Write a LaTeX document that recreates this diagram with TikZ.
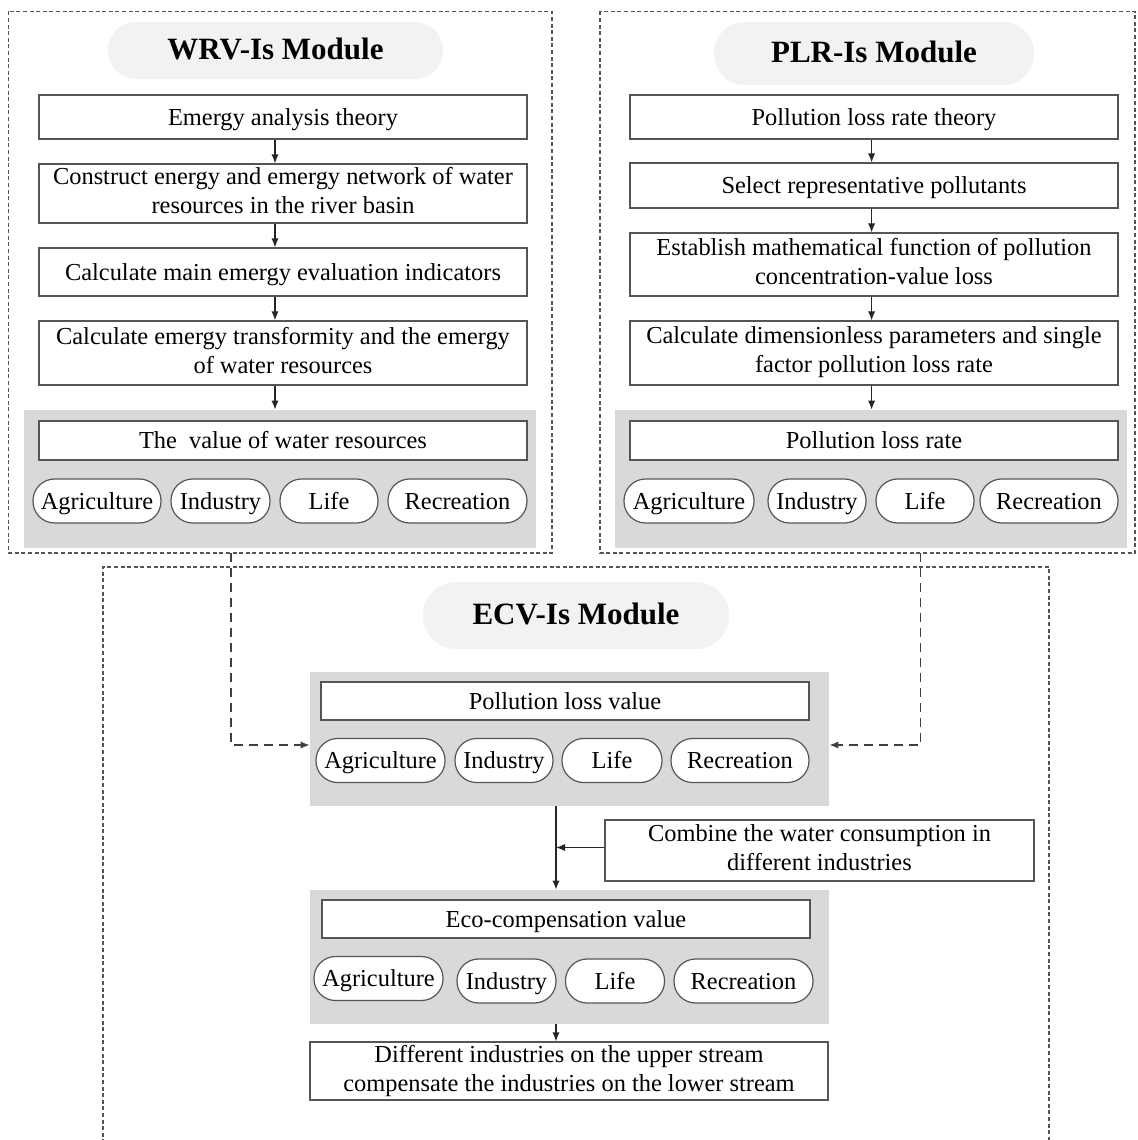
\documentclass[tikz,border=0pt]{standalone}
\usepackage{fontspec}
\setmainfont{Liberation Serif}
\usetikzlibrary{arrows.meta}
\definecolor{panelgray}{HTML}{D9D9D9}
\definecolor{titlegray}{HTML}{F2F2F2}
\definecolor{linegray}{HTML}{555555}
\newcommand\mytopstrut{\rule{0pt}{11pt}}
\newcommand\mybotstrut{\rule[-3pt]{0pt}{3pt}}
\newcommand\ttopstrut{\rule{0pt}{12.5pt}}
\newcommand\tbotstrut{\rule[-3.5pt]{0pt}{3.5pt}}
\begin{document}
\begin{tikzpicture}[x=0.5pt,y=-0.5pt,
  txt/.style={font=\fontsize{12.2}{14.5}\selectfont, align=center, inner sep=0pt,
    execute at begin node=\mytopstrut, execute at end node=\mybotstrut},
  box/.style={txt, draw=linegray, line width=0.6pt, fill=white},
  pill/.style={txt, draw=linegray, line width=0.6pt, fill=white, rounded corners=10.8pt, minimum height=22pt},
  panel/.style={fill=panelgray, inner sep=0pt},
  modtitle/.style={fill=titlegray, inner sep=0pt, font=\fontsize{15.5}{18}\bfseries\selectfont,
    execute at begin node=\ttopstrut, execute at end node=\tbotstrut},
  frame/.style={draw=linegray, line width=0.6pt, dash pattern=on 2pt off 1.3pt},
  arr/.style={draw=black!85, line width=0.6pt, -{Latex[length=4.5pt,width=3.6pt]}},
  darr/.style={arr, draw=black!75, dash pattern=on 4.5pt off 3pt}]
\useasboundingbox (0,0) rectangle (1137,1140);
\fill[white] (0,0) rectangle (1137,1140);

% ---------- frames ----------
\draw[frame] (8.6,11.4) rectangle (552,553);
\draw[frame] (600,11.4) rectangle (1135,553);
\draw[frame] (103,1150) -- (103,567) -- (1049,567) -- (1049,1150);

% ---------- WRV module ----------
\node[modtitle, rounded corners=14pt, minimum width=167.5pt, minimum height=28.5pt] (wt) at (275.5,50.5) {WRV-Is Module};
\node[box, minimum width=244pt, minimum height=22pt] (w1) at (283,117) {Emergy analysis theory};
\node[box, minimum width=244pt, minimum height=29.5pt] (w2) at (283,193.5) {Construct energy and emergy network of water\\resources in the river basin};
\node[box, minimum width=244pt, minimum height=24pt] (w3) at (283,272) {Calculate main emergy evaluation indicators};
\node[box, minimum width=244pt, minimum height=32pt] (w4) at (283,353) {Calculate emergy transformity and the emergy\\of water resources};
\node[panel, minimum width=256pt, minimum height=69pt] (wp) at (280,479) {};
\node[box, minimum width=244pt, minimum height=19.5pt] (wv) at (283,440.5) {The~ value of water resources};
\node[pill, minimum width=64pt] (wa) at (97,501) {Agriculture};
\node[pill, minimum width=49.5pt] (wi) at (220.5,501) {Industry};
\node[pill, minimum width=49pt] (wl) at (329,501) {Life};
\node[pill, minimum width=69.5pt] (wr) at (457.5,501) {Recreation};
\coordinate (wx) at (275,0);
\draw[arr] (w1.south -| wx) -- (w2.north -| wx);
\draw[arr] (w2.south -| wx) -- (w3.north -| wx);
\draw[arr] (w3.south -| wx) -- (w4.north -| wx);
\draw[arr] (w4.south -| wx) -- (wp.north -| wx);

% ---------- PLR module ----------
\node[modtitle, rounded corners=15.5pt, minimum width=160pt, minimum height=31.5pt] (pt) at (874,53.5) {PLR-Is Module};
\node[box, minimum width=244pt, minimum height=22pt] (p1) at (874,117) {Pollution loss rate theory};
\node[box, minimum width=244pt, minimum height=22.5pt] (p2) at (874,185.5) {Select representative pollutants};
\node[box, minimum width=244pt, minimum height=31.5pt] (p3) at (874,264.5) {Establish mathematical function of pollution\\concentration-value loss};
\node[box, minimum width=244pt, minimum height=32pt] (p4) at (874,353) {Calculate dimensionless parameters and single\\factor pollution loss rate};
\node[panel, minimum width=256pt, minimum height=69pt] (pp) at (871,479) {};
\node[box, minimum width=244pt, minimum height=19.5pt] (pv) at (874,440.5) {Pollution loss rate};
\node[pill, minimum width=65pt] (pa) at (689,501) {Agriculture};
\node[pill, minimum width=49pt] (pi) at (817,501) {Industry};
\node[pill, minimum width=49pt] (pl) at (925,501) {Life};
\node[pill, minimum width=69pt] (pr) at (1049,501) {Recreation};
\coordinate (px) at (871.6,0);
\draw[arr] (p1.south -| px) -- (p2.north -| px);
\draw[arr] (p2.south -| px) -- (p3.north -| px);
\draw[arr] (p3.south -| px) -- (p4.north -| px);
\draw[arr] (p4.south -| px) -- (pp.north -| px);

% ---------- ECV module ----------
\node[modtitle, rounded corners=16.5pt, minimum width=153pt, minimum height=33.5pt] (et) at (576,615.5) {ECV-Is Module};
\node[panel, minimum width=259.5pt, minimum height=67pt] (e1) at (569.5,739) {};
\node[box, minimum width=244pt, minimum height=19pt] (ev1) at (565,701) {Pollution loss value};
\node[pill, minimum width=64.5pt] (ea1) at (380.5,760.5) {Agriculture};
\node[pill, minimum width=49pt] (ei1) at (504,760.5) {Industry};
\node[pill, minimum width=50pt] (el1) at (612,760.5) {Life};
\node[pill, minimum width=69pt] (er1) at (740,760.5) {Recreation};

\node[box, minimum width=214.5pt, minimum height=30.5pt] (ec) at (819.5,850.5) {Combine the water consumption in\\different industries};

\node[panel, minimum width=259.5pt, minimum height=67pt] (e2) at (569.5,957) {};
\node[box, minimum width=244pt, minimum height=19pt] (ev2) at (566,919) {Eco-compensation value};
\node[pill, minimum width=64.5pt] (ea2) at (378.5,978.5) {Agriculture};
\node[pill, minimum width=49.5pt] (ei2) at (506.5,981) {Industry};
\node[pill, minimum width=49.5pt] (el2) at (615,981) {Life};
\node[pill, minimum width=69.5pt] (er2) at (743.5,981) {Recreation};

\node[box, minimum width=259pt, minimum height=29pt] (ef) at (569,1071) {Different industries on the upper stream\\compensate the industries on the lower stream};

\coordinate (ex) at (556,0);
\draw[arr] (e1.south -| ex) -- (e2.north -| ex);
\draw[arr] ([yshift=1.5pt]ec.west) -- ([yshift=1.5pt]ec.west -| ex);
\draw[arr] (e2.south -| ex) -- (ef.north -| ex);

% ---------- dashed links between modules ----------
\coordinate (wb) at (231,553);
\coordinate (pb) at (920.6,553);
\draw[darr] (wb) |- ([yshift=-3pt]e1.west);
\draw[darr] (pb) |- ([yshift=-3pt]e1.east);
\end{tikzpicture}
\end{document}
